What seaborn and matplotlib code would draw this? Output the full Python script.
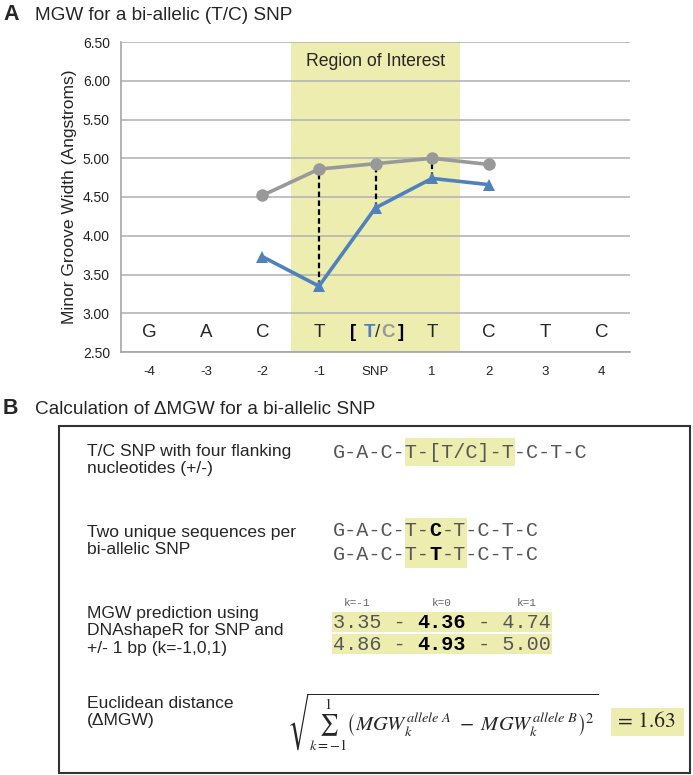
import matplotlib
matplotlib.use("Agg")
import matplotlib.pyplot as plt
from matplotlib.patches import Rectangle
import pandas as pd
import seaborn as sns

# ---- data (panel A) ----
positions = ['-4', '-3', '-2', '-1', 'SNP', '1', '2', '3', '4']
bases = ['G', 'A', 'C', 'T', '', 'T', 'C', 'T', 'C']
mgw_positions = ['-2', '-1', 'SNP', '1', '2']
mgw_allele_t = [3.73, 3.35, 4.36, 4.74, 4.66]   # blue, triangles
mgw_allele_c = [4.52, 4.86, 4.93, 5.00, 4.92]   # gray, circles
roi_positions = ['-1', 'SNP', '1']
y_ticks = [2.5, 3.0, 3.5, 4.0, 4.5, 5.0, 5.5, 6.0, 6.5]

# ---- data (panel B) ----
step_labels = ["T/C SNP with four flanking\nnucleotides (+/-)",
               "Two unique sequences per\nbi-allelic SNP",
               "MGW prediction using\nDNAshapeR for SNP and\n+/- 1 bp (k=-1,0,1)",
               "Euclidean distance\n(\u0394MGW)"]
flank_seq = "G-A-C-T-[T/C]-T-C-T-C"
seq_allele_c = "G-A-C-T-C-T-C-T-C"
seq_allele_t = "G-A-C-T-T-T-C-T-C"
k_labels = ['k=-1', 'k=0', 'k=1']

BLUE = '#4F81BD'
GRAY = '#999999'
SHADE = '#EDEDB0'

sns.set_style("white")
plt.rcParams['font.family'] = ['Liberation Sans', 'DejaVu Sans']
plt.rcParams['mathtext.fontset'] = 'stix'

W, H = 693, 775
fig = plt.figure(figsize=(W / 100, H / 100), dpi=100)

# overlay in pixel coordinates for panel labels and panel B
ov = fig.add_axes([0, 0, 1, 1])
ov.set_xlim(0, W)
ov.set_ylim(H, 0)
ov.set_axis_off()

# ========================================================
# Panel A
# ========================================================
ax = fig.add_axes([121 / W, 1 - 352 / H, 509 / W, 310 / H])
xpos = {p: i for i, p in enumerate(positions)}

df = pd.DataFrame({
    'x': [xpos[p] for p in mgw_positions] * 2,
    'mgw': mgw_allele_c + mgw_allele_t,
    'allele': ['C'] * len(mgw_positions) + ['T'] * len(mgw_positions),
})

roi_idx = [xpos[p] for p in roi_positions]
ax.axvspan(min(roi_idx) - 0.5, max(roi_idx) + 0.5, color=SHADE, zorder=0, lw=0)

# dashed connectors between the two alleles
for p in roi_positions:
    i = mgw_positions.index(p)
    ax.vlines(xpos[p], mgw_allele_t[i], mgw_allele_c[i], colors='black',
              linestyles=(0, (2.5, 1.5)), lw=1.6, zorder=1.5)

sns.lineplot(data=df, x='x', y='mgw', hue='allele', style='allele',
             palette={'C': GRAY, 'T': BLUE}, markers={'C': 'o', 'T': '^'},
             dashes=False, linewidth=2.6, markersize=9, markeredgewidth=0,
             legend=False, ax=ax, zorder=2)

ax.set_xlim(-0.5, len(positions) - 0.5)
ax.set_ylim(y_ticks[0], y_ticks[-1])
ax.set_yticks(y_ticks)
ax.set_yticklabels([f"{v:.2f}" for v in y_ticks], fontsize=10, color='#222222')
ax.set_xticks(range(len(positions)))
ax.set_xticklabels(positions, fontsize=9.5, color='#222222')
ax.set_xticks([i - 0.5 for i in range(len(positions) + 1)], minor=True)
ax.tick_params(axis='x', which='major', length=0, pad=10)
ax.tick_params(axis='x', which='minor', length=4, width=1.1, color='#A6A6A6', direction='out')
ax.tick_params(axis='y', length=4, width=1.1, color='#A6A6A6', direction='out', pad=4)
ax.yaxis.grid(True, color='#B5B5B5', lw=1.2)
ax.xaxis.grid(False)
ax.set_axisbelow(True)
for s in ['top', 'right']:
    ax.spines[s].set_visible(False)
for s in ['left', 'bottom']:
    ax.spines[s].set_color('#A6A6A6')
    ax.spines[s].set_linewidth(1.2)
ax.set_xlabel('')
ax.set_ylabel('Minor Groove Width (Angstroms)', fontsize=12.5, labelpad=4)

# nucleotide letters inside the plot
for i, b in enumerate(bases):
    if b:
        ax.text(i, 2.75, b, ha='center', va='center', fontsize=13.5)
snp = xpos['SNP']
for dx, s, c, w in [(-0.40, '[', 'black', 'bold'), (-0.11, 'T', BLUE, 'bold'),
                    (0.03, '/', '#333333', 'normal'), (0.22, 'C', GRAY, 'bold'),
                    (0.45, ']', 'black', 'bold')]:
    ax.text(snp + dx, 2.75, s, ha='center', va='center', fontsize=13.5, color=c, fontweight=w)

ax.text(xpos['SNP'], 6.25, 'Region of Interest', ha='center', va='center', fontsize=12.7)

ov.text(3, 15, 'A', fontsize=15.5, fontweight='bold', va='center', ha='left')
ov.text(35, 15, 'MGW for a bi-allelic (T/C) SNP', fontsize=13.7, va='center', ha='left')

# ========================================================
# Panel B
# ========================================================
ov.text(3, 409, 'B', fontsize=15.5, fontweight='bold', va='center', ha='left')
ov.text(35, 409, 'Calculation of \u0394MGW for a bi-allelic SNP', fontsize=13.7, va='center', ha='left')
ov.add_patch(Rectangle((59, 426), 631, 347, fill=False, ec='#333333', lw=1.5))

label_y = [460, 541, 631, 712]
for lab, y in zip(step_labels, label_y):
    ov.text(87, y, lab, fontsize=12.6, va='center', ha='left', linespacing=1.18)

MONO = 'Liberation Mono'
FS = 14.5
CW = 0.6 * FS / 72 * 100   # character advance in px
X0 = 333
TXT = '#555555'


def mono_row(y, segments, hl=None, hl_h=24):
    # segments: list of (text, weight, color); hl: (first char, last char + 1)
    if hl is not None:
        ov.add_patch(Rectangle((X0 + hl[0] * CW - 1, y - hl_h / 2), (hl[1] - hl[0]) * CW + 2,
                               hl_h, color=SHADE, lw=0, zorder=0))
    i = 0
    for s, w, c in segments:
        ov.text(X0 + i * CW, y, s, family=MONO, fontsize=FS, fontweight=w, color=c,
                va='center', ha='left', zorder=2)
        i += len(s)


mono_row(452, [(flank_seq, 'normal', TXT)], hl=(6, 15), hl_h=28)
mono_row(530, [(seq_allele_c[:8], 'normal', TXT), (seq_allele_c[8], 'bold', 'black'),
               (seq_allele_c[9:], 'normal', TXT)], hl=(6, 11), hl_h=25)
mono_row(555, [(seq_allele_t[:8], 'normal', TXT), (seq_allele_t[8], 'bold', 'black'),
               (seq_allele_t[9:], 'normal', TXT)], hl=(6, 11), hl_h=25)

vals_t = [mgw_allele_t[mgw_positions.index(p)] for p in roi_positions]
vals_c = [mgw_allele_c[mgw_positions.index(p)] for p in roi_positions]
for y, vals in [(622, vals_t), (644, vals_c)]:
    segs = [(f"{vals[0]:.2f} - ", 'normal', TXT), (f"{vals[1]:.2f}", 'bold', 'black'),
            (f" - {vals[2]:.2f}", 'normal', TXT)]
    mono_row(y, segs, hl=(0, 18), hl_h=20)
for j, k in enumerate(k_labels):
    ov.text(X0 + (2 + 7 * j) * CW, 603, k, family=MONO, fontsize=8, color='#666666',
            ha='center', va='center')

formula = (r'$\sqrt{\sum_{k=-1}^{1}\left(MGW_k^{allele\ A}\ -\ MGW_k^{allele\ B}\right)^2}$')
ov.text(287, 722, formula, fontsize=14.8, va='center', ha='left')

dist = sum((a - b) ** 2 for a, b in zip(vals_t, vals_c)) ** 0.5
ov.add_patch(Rectangle((611, 708), 73, 28, color=SHADE, lw=0, zorder=0))
ov.text(647, 722, f"= {dist:.2f}", family='STIXGeneral', fontsize=15.5, va='center', ha='center')

fig.savefig('out.png', dpi=100)
